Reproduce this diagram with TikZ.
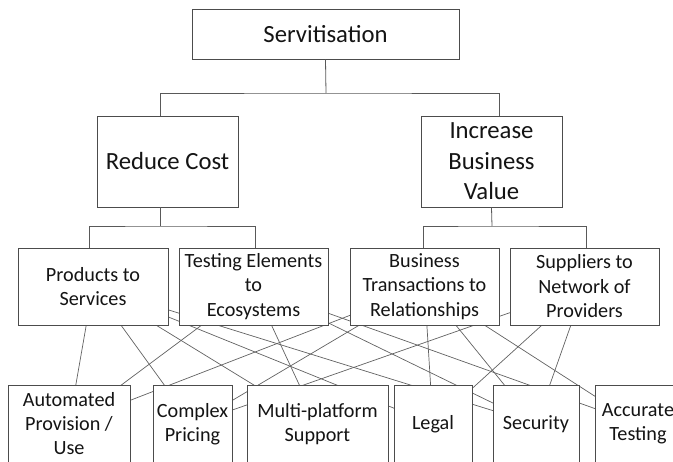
\documentclass[tikz,border=0pt]{standalone}
\usepackage{fontspec}
\setmainfont{Carlito}
\usetikzlibrary{backgrounds}
\begin{document}
\begin{tikzpicture}[x=1pt,y=-1pt,
 box/.style={draw=black!70,line width=0.9pt,fill=white,align=center,inner sep=0pt,text=black!92},
 big/.style={box,font=\fontsize{24.7}{30.5}\selectfont},
 mid/.style={box,font=\fontsize{20.2}{24.5}\selectfont,minimum height=77pt,minimum width=149pt},
 low/.style={box,font=\fontsize{20.2}{24}\selectfont,minimum height=78pt},
 conn/.style={draw=black!65,line width=0.8pt},
 cross/.style={draw=black!62,line width=0.7pt}]
\useasboundingbox (0,0) rectangle (673,462);
\clip (0,0) rectangle (673,462);
\node[big,minimum width=267pt,minimum height=50pt] (serv) at (325.5,34) {Servitisation};
\node[big,minimum width=141pt,minimum height=91pt] (red) at (167.5,161.5) {Reduce Cost};
\node[big,minimum width=141pt,minimum height=91pt] (inc) at (491.5,161.5) {Increase\\Business\\Value};
\node[mid,minimum width=150pt] (prod) at (93,286.5) {Products to\\Services};
\node[mid] (test) at (253.5,286.5) {Testing Elements\\to\\Ecosystems};
\node[mid] (bus) at (424.5,286.5) {Business\\Transactions to\\Relationships};
\node[mid] (supp) at (584.5,286.5) {Suppliers to\\Network of\\Providers};
\node[low,minimum width=122pt] (auto) at (69,424) {Automated\\Provision /\\Use};
\node[low,minimum width=79pt] (comp) at (192.5,424) {Complex\\Pricing};
\node[low,minimum width=141pt] (multi) at (317.5,424) {Multi-platform\\Support};
\node[low,minimum width=78pt] (legal) at (433,424) {Legal};
\node[low,minimum width=86pt] (sec) at (536,424) {Security};
\node[low,minimum width=86pt] (acc) at (638,424) {Accurate\\Testing};
\coordinate (j0) at (326,93);
\coordinate (j1) at (160,226);
\coordinate (j2) at (492,226);
\draw[conn] (serv.south) -- (j0);
\draw[conn] ([xshift=-7.5pt]red.north) |- (j0) -| ([xshift=7.5pt]inc.north);
\draw[conn] ([xshift=-7.5pt]red.south) -- (j1);
\draw[conn] ([xshift=-4pt]prod.north) |- (j1) -| ([xshift=1.5pt]test.north);
\draw[conn] (inc.south) -- (j2);
\draw[conn] ([xshift=-1.5pt]bus.north) |- (j2) -| ([xshift=1.5pt]supp.north);
\begin{pgfonlayer}{background}
\foreach \a/\b in {prod/auto,prod/comp,prod/multi,prod/legal,prod/sec,
                   test/auto,test/multi,test/sec,test/acc,
                   bus/auto,bus/comp,bus/legal,bus/sec,bus/acc,
                   supp/comp,supp/legal,supp/sec}
    \draw[cross] (\a.center) -- (\b.center);
\end{pgfonlayer}
\end{tikzpicture}
\end{document}
